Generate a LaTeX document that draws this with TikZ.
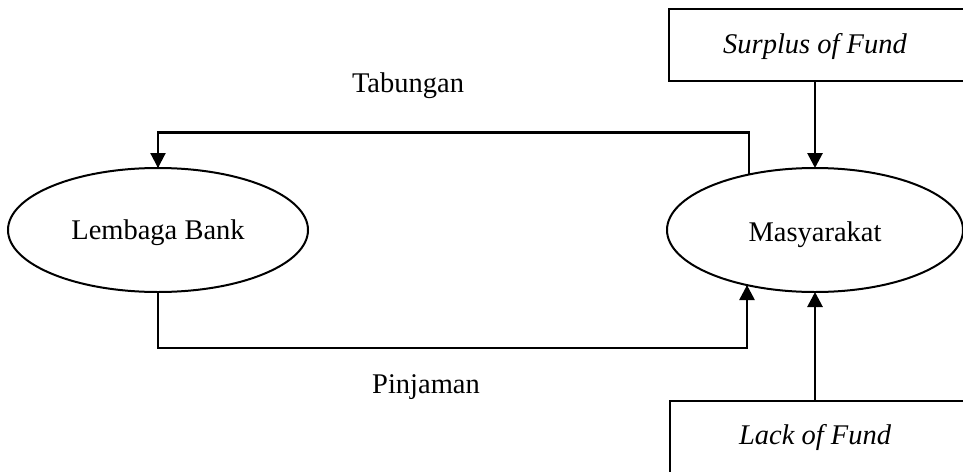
\documentclass[tikz,border=0pt]{standalone}
\usepackage{fontspec}
\setmainfont{Liberation Serif}
\usetikzlibrary{arrows.meta,shapes.geometric}
\begin{document}
\begin{tikzpicture}[x=1pt,y=-1pt,
  every node/.style={font=\fontsize{28.5}{34}\selectfont, outer sep=0pt},
  oval/.style={ellipse, draw, line width=2pt, minimum width=300, minimum height=124, inner sep=0pt},
  fbox/.style={rectangle, draw, line width=2.2pt, anchor=north west, inner sep=0pt},
  link/.style={line width=2.2pt},
  arr/.style={line width=2.8pt, -{Triangle[length=15pt,width=15pt]}},
  lbl/.style={anchor=base, inner sep=0pt}]
\useasboundingbox (0,0) rectangle (963,471);
\clip (0,0) rectangle (963,471);
\node[oval] (Bank) at (158,230) {};
\node[lbl] (BankTxt) at (158,239) {Lembaga Bank};
\node[oval, minimum width=296] (Mas) at (815,230) {};
\node[lbl] (MasTxt) at (815,241) {Masyarakat};
\node[fbox, minimum width=340, minimum height=72] (SurplusBox) at (669,9) {};
\node[lbl] (SurplusTxt) at (815,53) {\itshape Surplus of Fund};
\node[fbox, minimum width=340, minimum height=100] (LackBox) at (670,401) {};
\node[lbl] (LackTxt) at (815,444) {\itshape Lack of Fund};
\node[lbl] (Tab) at (408,92) {Tabungan};
\node[lbl] (Pin) at (426,393) {Pinjaman};
% Tabungan: Masyarakat -> Lembaga Bank
\draw[link] (Mas.140.5) -- ++(0,-42) coordinate (t1) -| (Bank.north);
\draw[arr, line width=2.2pt] (Bank.north) ++(0,-20) -- (Bank.north);
% Pinjaman: Lembaga Bank -> Masyarakat
\draw[link] (Bank.south) -- ++(0,56) coordinate (p1) -| (Mas.219.5);
\draw[arr] (Mas.219.5) ++(0,30) -- (Mas.219.5);
% Surplus -> Masyarakat
\draw[arr] (SurplusBox.south -| Mas.north) -- (Mas.north);
% Lack -> Masyarakat
\draw[arr] (LackBox.north -| Mas.south) -- (Mas.south);
\end{tikzpicture}
\end{document}
